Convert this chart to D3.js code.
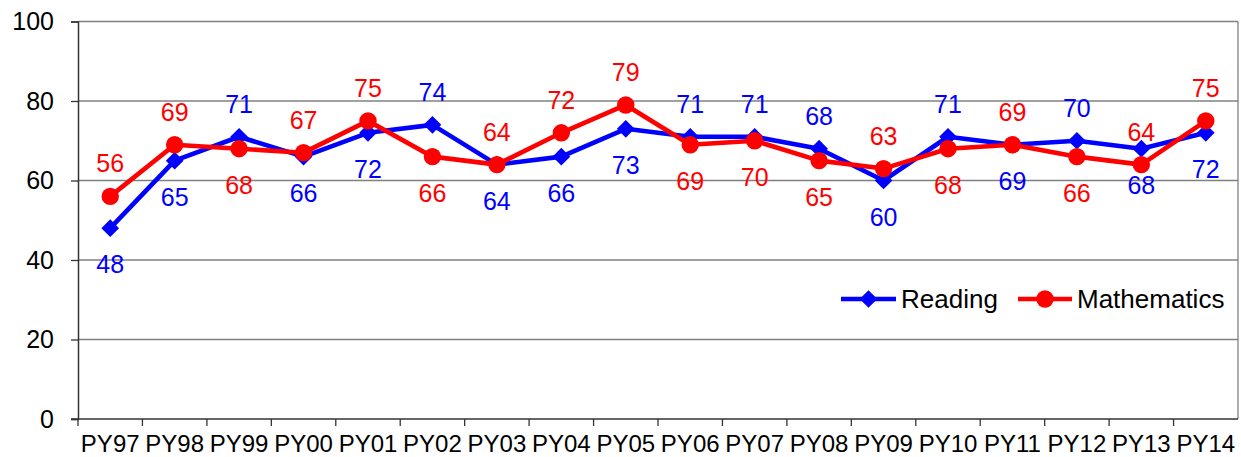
<!DOCTYPE html>
<html>
<head>
<meta charset="utf-8">
<script src="https://cdn.jsdelivr.net/npm/d3@7"></script>
<style>
  html, body { margin: 0; padding: 0; background: #fff; }
  svg text { font-family: Arial, "Liberation Sans", sans-serif; }
</style>
</head>
<body>
<svg id="chart" width="1241" height="457"></svg>
<script>
// Program years on the horizontal axis
const years = ["PY97","PY98","PY99","PY00","PY01","PY02","PY03","PY04","PY05","PY06","PY07","PY08","PY09","PY10","PY11","PY12","PY13","PY14"];

// Percentages per year
const reading     = [48,65,71,66,72,74,64,66,73,71,71,68,60,71,69,70,68,72];
const mathematics = [56,69,68,67,75,66,64,72,79,69,70,65,63,68,69,66,64,75];

// Which side of the point each value label sits on (1 = above, -1 = below)
const readingLabelSide = [-1,-1,1,-1,-1,1,-1,-1,-1,1,1,1,-1,1,-1,1,-1,-1];
const mathLabelSide    = [1,1,-1,1,1,-1,1,1,1,-1,-1,-1,1,-1,1,-1,1,1];

const yTicks = [0,20,40,60,80,100];

const svg = d3.select("#chart");
const plotLeft = 78, plotRight = 1238, plotTop = 21.5, plotBottom = 419;

const x = d3.scaleBand().domain(years).range([plotLeft, plotRight]).padding(0);
const y = d3.scaleLinear().domain([0, 100]).range([plotBottom, plotTop]);
const cx = d => x(d) + x.bandwidth() / 2;

// Horizontal gridlines and plot border
svg.append("g").selectAll("line").data(yTicks.filter(t => t > 0)).join("line")
  .attr("x1", plotLeft).attr("x2", plotRight)
  .attr("y1", d => y(d)).attr("y2", d => y(d))
  .attr("stroke", "#808080").attr("stroke-width", 1.3);
svg.append("line").attr("x1", plotRight).attr("x2", plotRight)
  .attr("y1", plotTop).attr("y2", plotBottom)
  .attr("stroke", "#808080").attr("stroke-width", 1.3);

// Y axis
const yAxis = svg.append("g").attr("transform", `translate(${plotLeft},0)`)
  .call(d3.axisLeft(y).tickValues(yTicks).tickSize(7).tickPadding(17).tickFormat(d3.format("d")));
yAxis.select(".domain").attr("stroke", "#333").attr("stroke-width", 1.5);
yAxis.selectAll(".tick line").attr("stroke", "#333").attr("stroke-width", 1.3);
yAxis.selectAll("text").attr("font-size", 25).attr("fill", "#000")
  .style("font-family", "Arial, 'Liberation Sans', sans-serif");

// X axis with ticks on the category boundaries
const xAxis = svg.append("g").attr("transform", `translate(0,${plotBottom})`);
xAxis.append("line").attr("x1", plotLeft - 7).attr("x2", plotRight)
  .attr("y1", 0).attr("y2", 0).attr("stroke", "#333").attr("stroke-width", 1.5);
xAxis.selectAll(".bt").data(years).join("line").attr("class", "bt")
  .attr("x1", d => x(d)).attr("x2", d => x(d))
  .attr("y1", 0).attr("y2", 7).attr("stroke", "#333").attr("stroke-width", 1.3);
xAxis.selectAll("text").data(years).join("text")
  .attr("x", d => cx(d)).attr("y", 33)
  .attr("text-anchor", "middle").attr("font-size", 24).attr("fill", "#000")
  .text(d => d);

// Series
const series = [
  { name: "Reading", values: reading, sides: readingLabelSide, color: "#0000ff", marker: "diamond" },
  { name: "Mathematics", values: mathematics, sides: mathLabelSide, color: "#ff0000", marker: "circle" }
];

const line = d3.line().x((d, i) => cx(years[i])).y(d => y(d));
const square = d3.symbol().type(d3.symbolSquare).size(156);

function drawMarker(g, s, px, py) {
  if (s.marker === "circle") {
    g.append("circle").attr("cx", px).attr("cy", py).attr("r", 8.7).attr("fill", s.color);
  } else {
    // square turned 45 degrees
    g.append("path").attr("d", square()).attr("transform", `translate(${px},${py}) rotate(45)`).attr("fill", s.color);
  }
}

series.forEach(s => {
  const g = svg.append("g");
  g.append("path").datum(s.values).attr("d", line)
    .attr("fill", "none").attr("stroke", s.color).attr("stroke-width", 4.6)
    .attr("stroke-linejoin", "round");
  s.values.forEach((v, i) => drawMarker(g, s, cx(years[i]), y(v)));
});

// Value labels
series.forEach(s => {
  svg.append("g").selectAll("text").data(s.values).join("text")
    .attr("x", (d, i) => cx(years[i]))
    .attr("y", (d, i) => y(d) - (s.sides[i] > 0 ? 33 : -36))
    .attr("dy", "0.36em")
    .attr("text-anchor", "middle").attr("font-size", 25).attr("fill", s.color)
    .text(d => d);
});

// Legend
const legend = svg.append("g");
const legendItems = [
  { s: series[0], x0: 841, x1: 896, tx: 901 },
  { s: series[1], x0: 1018, x1: 1072, tx: 1077 }
];
const ly = 299;
legendItems.forEach(it => {
  legend.append("line").attr("x1", it.x0).attr("x2", it.x1).attr("y1", ly).attr("y2", ly)
    .attr("stroke", it.s.color).attr("stroke-width", 4.6);
  drawMarker(legend, it.s, (it.x0 + it.x1) / 2, ly);
  legend.append("text").attr("x", it.tx).attr("y", ly).attr("dy", "0.36em")
    .attr("font-size", 26).attr("fill", "#000").text(it.s.name);
});
</script>
</body>
</html>
